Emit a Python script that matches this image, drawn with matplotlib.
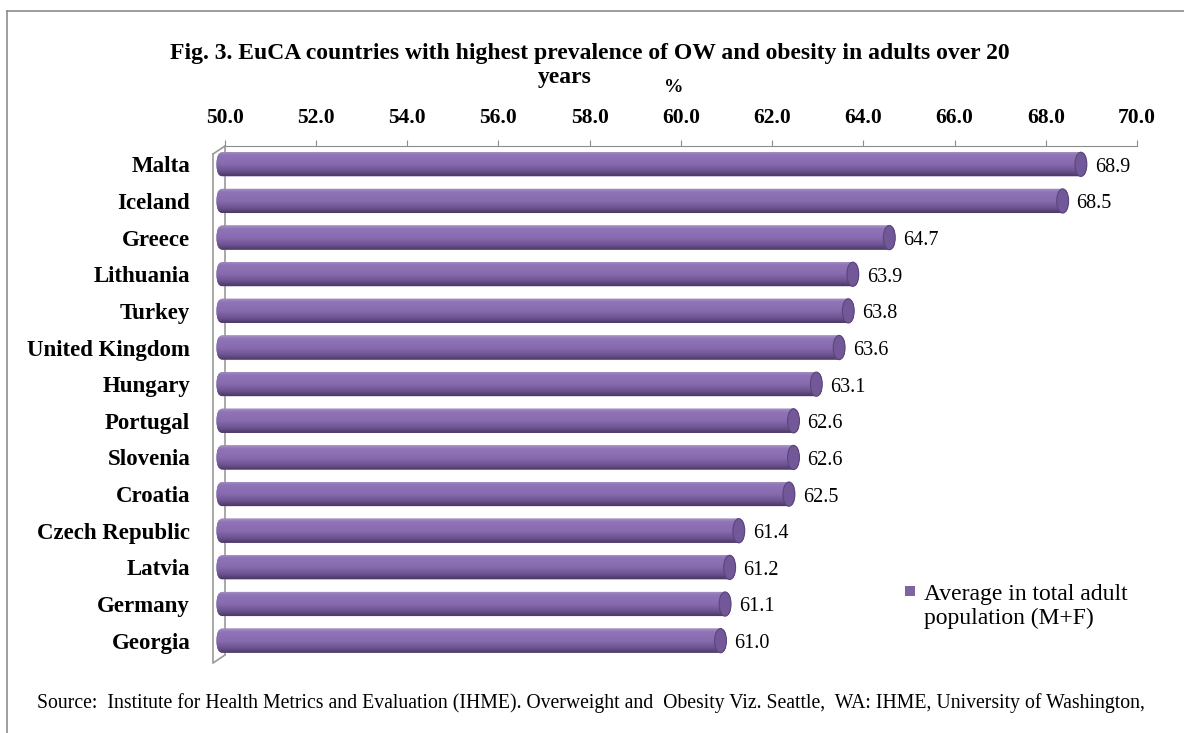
import numpy as np
import matplotlib
matplotlib.use("Agg")
import matplotlib.pyplot as plt
from matplotlib.colors import LinearSegmentedColormap
from matplotlib.patches import FancyBboxPatch, Ellipse, Rectangle
from matplotlib.lines import Line2D
import matplotlib.transforms as mtransforms

plt.rcParams['font.family'] = ['Liberation Serif', 'DejaVu Serif']

countries = ['Malta', 'Iceland', 'Greece', 'Lithuania', 'Turkey', 'United Kingdom',
             'Hungary', 'Portugal', 'Slovenia', 'Croatia', 'Czech Republic',
             'Latvia', 'Germany', 'Georgia']
values = [68.9, 68.5, 64.7, 63.9, 63.8, 63.6, 63.1, 62.6, 62.6, 62.5, 61.4,
          61.2, 61.1, 61.0]
ticks = [50, 52, 54, 56, 58, 60, 62, 64, 66, 68, 70]

series_name = 'Average in total adult\npopulation (M+F)'
title_1 = 'Fig. 3. EuCA countries with highest prevalence of OW and obesity in adults over 20'
title_2 = 'years'
source = ('Source:  Institute for Health Metrics and Evaluation (IHME). Overweight and  Obesity Viz. '
          'Seattle,  WA: IHME, University of Washington,')

W, H = 1184, 733
fig = plt.figure(figsize=(W / 100, H / 100), dpi=100)
ax = fig.add_axes([211 / W, 1 - 659 / H, (1137 - 211) / W, (659 - 146) / H])

# shading across each cylinder, light on top, dark underneath
purple = LinearSegmentedColormap.from_list(
    'cyl', [(0.0, '#a994c6'), (0.15, '#8f74b7'), (0.5, '#896cb0'),
            (0.8, '#6c5390'), (1.0, '#4b3a64')])
grad = np.linspace(0, 1, 64).reshape(-1, 1)

ax.set_xlim(49.7, 70)
ax.set_ylim(len(countries) - 0.5, -0.5)

base = 49.82
h = 0.66
rx = 0.13
for i, v in enumerate(values):
    bar = FancyBboxPatch((base, i - h / 2), v - base, h,
                         boxstyle='round,pad=0,rounding_size=%f' % rx,
                         mutation_aspect=(h / 2) / rx,
                         facecolor='#8a6db1', edgecolor='none', zorder=2)
    ax.add_patch(bar)
    im = ax.imshow(grad, cmap=purple, aspect='auto', interpolation='bilinear',
                   extent=(base, v, i + h / 2, i - h / 2), zorder=3)
    im.set_clip_path(bar)
    # end face of the cylinder
    ax.add_patch(Ellipse((v - rx, i), 2 * rx, h, facecolor='#735899',
                         edgecolor='#5a4679', linewidth=0.8, zorder=4))
    ax.text(v, i + 0.08, '%.1f' % v, transform=ax.transData + mtransforms.ScaledTranslation(
        8 / 100, 0, fig.dpi_scale_trans), ha='left', va='center', fontsize=14.5, zorder=5)

# top value axis
ax.xaxis.tick_top()
ax.set_xticks(ticks)
ax.set_xticklabels(['%.1f' % t for t in ticks], fontweight='bold', fontsize=15.5)
ax.tick_params(axis='x', direction='out', length=4, color='#8c8c8c', pad=9)
ax.set_yticks(range(len(countries)))
ax.set_yticklabels(countries, fontweight='bold', fontsize=16.5)
ax.tick_params(axis='y', length=0, pad=15)
for s in ['left', 'right', 'bottom']:
    ax.spines[s].set_visible(False)
ax.spines['top'].set_bounds(50, 70)
ax.spines['top'].set_color('#8c8c8c')
ax.patch.set_alpha(0)

# side wall of the 3-D plot area
tr = mtransforms.blended_transform_factory(ax.transData, ax.transAxes)
shift = mtransforms.ScaledTranslation(-12 / 100, -8 / 100, fig.dpi_scale_trans)
wall = dict(color='#9a9a9a', linewidth=1.2, clip_on=False, zorder=1)
ax.plot([50, 50], [1, 0.01], transform=tr, **wall)
ax.plot([50, 50], [1, 0.01], transform=tr + shift, **wall)
ax.add_line(Line2D([213, 225], [H - 154, H - 146], transform=None, **wall))
ax.add_line(Line2D([213, 225], [H - 663, H - 655], transform=None, **wall))

ax.text(0.5, 1, '%', transform=ax.transAxes + mtransforms.ScaledTranslation(
    0, 58 / 100, fig.dpi_scale_trans), ha='center', va='center', fontsize=14, fontweight='bold')

fig.text(590 / W, 1 - 53 / H, title_1, ha='center', va='center', fontsize=17,
         fontweight='bold')
fig.text(565 / W, 1 - 78 / H, title_2, ha='center', va='center', fontsize=17,
         fontweight='bold')

# legend
fig.patches.append(Rectangle((905 / W, 1 - 596 / H), 10 / W, 10 / H,
                             transform=fig.transFigure, facecolor='#8064a2',
                             edgecolor='none'))
fig.text(924 / W, 1 - 584 / H, series_name, ha='left', va='top', fontsize=17,
         linespacing=1.2)

fig.text(37 / W, 1 - 703 / H, source, ha='left', va='center', fontsize=14.2)

# page frame
fig.add_artist(Line2D([7 / W, 1], [1 - 11 / H, 1 - 11 / H], color='#8c8c8c', linewidth=1.2))
fig.add_artist(Line2D([7 / W, 7 / W], [1 - 11 / H, 0], color='#8c8c8c', linewidth=1.2))

fig.savefig('out.png', dpi=100)
